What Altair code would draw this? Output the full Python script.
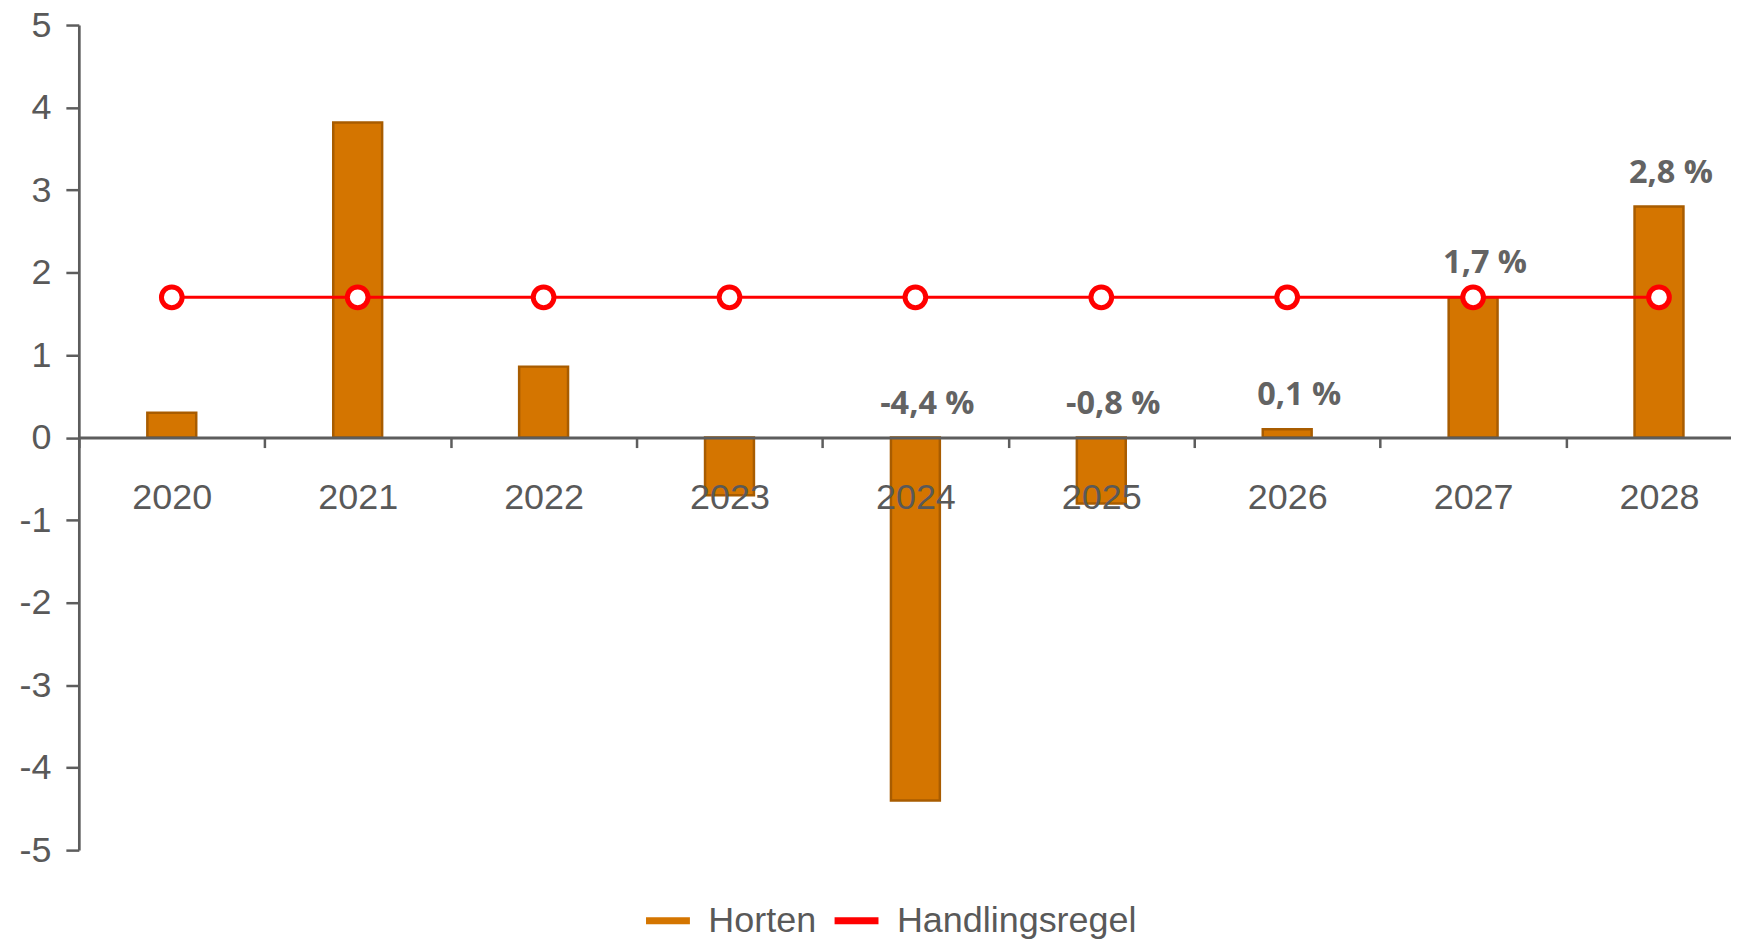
import altair as alt
import pandas as pd

years = ["2020", "2021", "2022", "2023", "2024", "2025", "2026", "2027", "2028"]
horten = [0.3, 3.82, 0.86, -0.7, -4.4, -0.8, 0.1, 1.7, 2.8]
regel = [1.7, 1.7, 1.7, 1.7, 1.7, 1.7, 1.7, 1.7, 1.7]
labels = ["", "", "", "", "-4,4 %", "-0,8 %", "0,1 %", "1,7 %", "2,8 %"]
series_names = ["Horten", "Handlingsregel"]
series_colors = ["#D47500", "#FF0000"]
y_ticks = [-5, -4, -3, -2, -1, 0, 1, 2, 3, 4, 5]

df = pd.DataFrame({
    "year": years,
    "horten": horten,
    "regel": regel,
    "label": labels,
    "series": ["Handlingsregel"] * len(years),
})

AX = "#5d5d5d"
TXT = "#595959"
FONT = "Liberation Sans"

x_enc = alt.X(
    "year:N",
    sort=years,
    scale=alt.Scale(range=[0, 1677], paddingInner=0, paddingOuter=0),
    title=None,
    axis=alt.Axis(
        orient="bottom",
        offset=-413.5,
        labelAngle=0,
        tickBand="extent",
        tickSize=10,
        tickWidth=2.5,
        tickColor=AX,
        domainColor=AX,
        domainWidth=3,
        labelFont=FONT,
        labelFontSize=36,
        labelColor=TXT,
        labelPadding=33,
        grid=False,
        zindex=1,
    ),
)

y_scale = alt.Scale(domain=[-5, 5], nice=False)
y_axis = alt.Axis(
    values=y_ticks,
    labelExpr="toString(datum.value)",
    tickSize=13,
    tickWidth=2.5,
    tickColor=AX,
    domainColor=AX,
    domainWidth=2.7,
    labelFont=FONT,
    labelFontSize=36,
    labelColor=TXT,
    labelPadding=15,
    grid=False,
)

bars = alt.Chart().mark_bar(
    width=49, fill="#D47500", stroke="#A85C00", strokeWidth=2.5
).encode(
    x=x_enc,
    y=alt.Y("horten:Q", scale=y_scale, axis=y_axis, title=None),
)

line = alt.Chart().mark_line(strokeWidth=3).encode(
    x=x_enc,
    y=alt.Y("regel:Q"),
    color=alt.Color(
        "series:N",
        scale=alt.Scale(domain=series_names, range=series_colors),
        legend=alt.Legend(
            title=None,
            orient="none",
            legendX=565,
            legendY=872,
            direction="horizontal",
            symbolType="stroke",
            symbolSize=1936,
            symbolStrokeWidth=7,
            labelFont=FONT,
            labelFontSize=36,
            labelColor=TXT,
            labelOffset=15,
            labelLimit=0,
            columnPadding=3,
            padding=0,
        ),
    ),
)

points = alt.Chart().mark_point(
    shape="circle", filled=True, fill="white", stroke="#FF0000",
    strokeWidth=5, size=430, opacity=1
).encode(
    x=x_enc,
    y=alt.Y("regel:Q"),
)

text = alt.Chart().transform_calculate(
    labelY="max(datum.horten, 0)"
).mark_text(
    font="Open Sans", fontWeight="bold", fontSize=32.5, color="#636363",
    dx=12, dy=-24, baseline="alphabetic", align="center"
).encode(
    x=x_enc,
    y=alt.Y("labelY:Q"),
    text="label:N",
)

chart = alt.layer(bars, line, points, text, data=df).properties(
    width=1656,
    height=827,
    padding={"left": 71, "top": 16, "right": 0, "bottom": 88},
    autosize=alt.AutoSizeParams(type="none"),
).configure_view(strokeWidth=0)

chart.save("out.html", embed_options={"renderer": "svg", "actions": False})
